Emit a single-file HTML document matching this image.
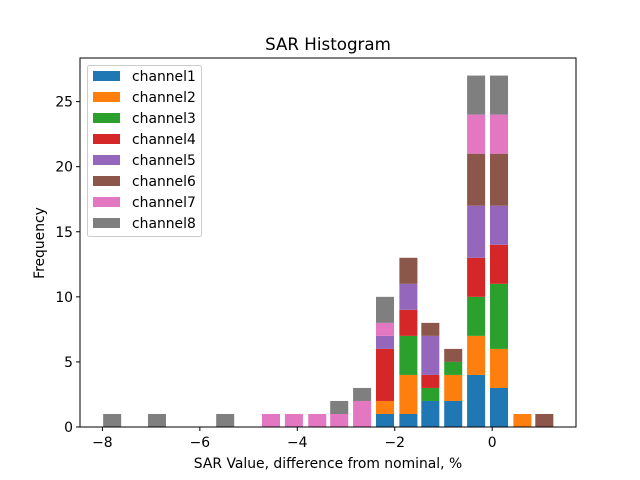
<!DOCTYPE html>
<html><head><meta charset="utf-8"><style>
body{margin:0;background:#fff}
svg{display:block;font-family:"DejaVu Sans","Liberation Sans",sans-serif}
</style></head><body>
<svg id="chart" width="640" height="480" viewBox="0 0 640 480"></svg>
<script>
const binCenters=[-7.80,-6.88,-5.48,-4.54,-4.07,-3.59,-3.14,-2.67,-2.20,-1.72,-1.27,-0.80,-0.33,0.14,0.62,1.07];
const channelNames=["channel1","channel2","channel3","channel4","channel5","channel6","channel7","channel8"];
const channel1=[0,0,0,0,0,0,0,0,1,1,2,2,4,3,0,0];
const channel2=[0,0,0,0,0,0,0,0,1,3,0,2,3,3,1,0];
const channel3=[0,0,0,0,0,0,0,0,0,3,1,1,3,5,0,0];
const channel4=[0,0,0,0,0,0,0,0,4,2,1,0,3,3,0,0];
const channel5=[0,0,0,0,0,0,0,0,1,2,3,0,4,3,0,0];
const channel6=[0,0,0,0,0,0,0,0,0,2,1,1,4,4,0,1];
const channel7=[0,0,0,1,1,1,1,2,1,0,0,0,3,3,0,0];
const channel8=[1,1,1,0,0,0,1,1,2,0,0,0,3,3,0,0];
const xTicks=[-8,-6,-4,-2,0];
const yTicks=[0,5,10,15,20,25];
const colors=["#1f77b4","#ff7f0e","#2ca02c","#d62728","#9467bd","#8c564b","#e377c2","#7f7f7f"];
const series=[channel1,channel2,channel3,channel4,channel5,channel6,channel7,channel8];

const L=80,R=576,T=58,B=427;
const xMin=-8.46,xMax=1.72,yMax=28.35,binW=0.37;
const sx=v=>L+(v-xMin)/(xMax-xMin)*(R-L);
const sy=v=>B-v/yMax*(B-T);
const svg=document.getElementById('chart');
const NS="http://www.w3.org/2000/svg";
function mk(tag,attrs,parent){const e=document.createElementNS(NS,tag);for(const k in attrs)e.setAttribute(k,attrs[k]);(parent||svg).appendChild(e);return e;}

const bars=mk('g',{});


const bottoms=binCenters.map(()=>0);
series.forEach((s,si)=>{
  s.forEach((v,i)=>{
    if(v<=0)return;
    const x0=sx(binCenters[i]-binW/2),x1=sx(binCenters[i]+binW/2);
    const y0=sy(bottoms[i]),y1=sy(bottoms[i]+v);
    const r=mk('rect',{x:x0,y:y1,width:x1-x0,height:y0-y1,fill:colors[si]},bars);
    
    
    bottoms[i]+=v;
  });
});

const frame=mk('rect',{x:L,y:T,width:R-L,height:B-T,fill:'none',stroke:'#000','stroke-width':1});



xTicks.forEach(t=>{
  const x=sx(t);
  mk('line',{x1:x,x2:x,y1:B,y2:B+4,stroke:'#000'});
  const tx=mk('text',{x:x,y:B+20,'text-anchor':'middle','font-size':13.9});
  tx.textContent=t<0?'\u2212'+Math.abs(t):String(t);
  
  
});
yTicks.forEach(t=>{
  const y=sy(t);
  mk('line',{x1:L,x2:L-4,y1:y,y2:y,stroke:'#000'});
  const tx=mk('text',{x:L-7,y:y+5,'text-anchor':'end','font-size':13.9});
  tx.textContent=String(t);
  
  
});

const title=mk('text',{x:(L+R)/2,y:50,'text-anchor':'middle','font-size':16.7});
title.textContent='SAR Histogram';


const xl=mk('text',{x:(L+R)/2,y:468,'text-anchor':'middle','font-size':13.9});
xl.textContent='SAR Value, difference from nominal, %';


const yl=mk('text',{x:0,y:0,'text-anchor':'middle','font-size':13.9,transform:'translate(44,243) rotate(-90)'});
yl.textContent='Frequency';



const lg=mk('g',{});


mk('rect',{x:87.5,y:65.5,width:114,height:171,rx:2,fill:'#fff','fill-opacity':0.8,stroke:'#ccc'},lg);
channelNames.forEach((n,i)=>{
  const y=76+i*21;
  const g=mk('g',{},lg);
  
  
  mk('rect',{x:93,y:y-5,width:27,height:10,fill:colors[i]},g);
  const t=mk('text',{x:132,y:y+5,'font-size':13.9},g);
  t.textContent=n;
});
</script>
</body></html>
